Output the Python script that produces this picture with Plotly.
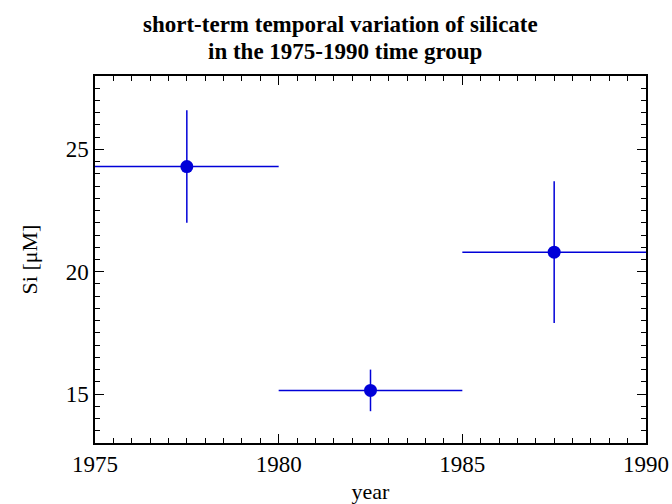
import plotly.graph_objects as go

# Silicate means per 5-year sub-period
years = [1977.5, 1982.5, 1987.5]
year_halfwidth = [2.5, 2.5, 2.5]
si_mean = [24.3, 15.15, 20.8]
si_err = [2.3, 0.85, 2.9]

x_ticks = [1975, 1980, 1985, 1990]
y_ticks = [15, 20, 25]

title_lines = [
    "short-term temporal variation of silicate",
    "in the 1975-1990 time group",
]

blue = "#0000D8"
font_family = "Liberation Serif, Times New Roman, serif"

fig = go.Figure(
    go.Scatter(
        x=years,
        y=si_mean,
        mode="markers",
        marker=dict(color=blue, size=13),
        error_x=dict(type="data", array=year_halfwidth, color=blue, thickness=1.5, width=0),
        error_y=dict(type="data", array=si_err, color=blue, thickness=1.5, width=0),
        showlegend=False,
    )
)

axis_common = dict(
    showline=True,
    linecolor="black",
    linewidth=1.5,
    mirror="allticks",
    ticks="inside",
    ticklen=9,
    tickwidth=1.2,
    tickcolor="black",
    showgrid=False,
    zeroline=False,
    automargin=False,
    tickfont=dict(family=font_family, size=23, color="black"),
)

minor_ticks = dict(dtick=0.5, ticks="inside", ticklen=5, tickcolor="black", tickwidth=1, showgrid=False)

fig.update_xaxes(
    range=[1975, 1990],
    tickvals=x_ticks,
    minor=minor_ticks,
    title=dict(text="year", font=dict(family=font_family, size=22, color="black"), standoff=10),
    **axis_common,
)
fig.update_yaxes(
    range=[13, 28],
    tickvals=y_ticks,
    minor=minor_ticks,
    title=dict(text="Si [μM]", font=dict(family=font_family, size=22, color="black"), standoff=22),
    **axis_common,
)

# Two-line bold heading, placed line by line for tight spacing
for text, x, y in zip(title_lines, [0.445, 0.453], [1.141, 1.066]):
    fig.add_annotation(
        text=f"<b>{text}</b>",
        xref="paper",
        yref="paper",
        x=x,
        y=y,
        xanchor="center",
        yanchor="middle",
        showarrow=False,
        font=dict(family=font_family, size=23, color="black"),
    )

fig.update_layout(
    width=672,
    height=504,
    margin=dict(l=95, r=26, t=76, b=61),
    paper_bgcolor="white",
    plot_bgcolor="white",
)

fig.write_html("out.html")
